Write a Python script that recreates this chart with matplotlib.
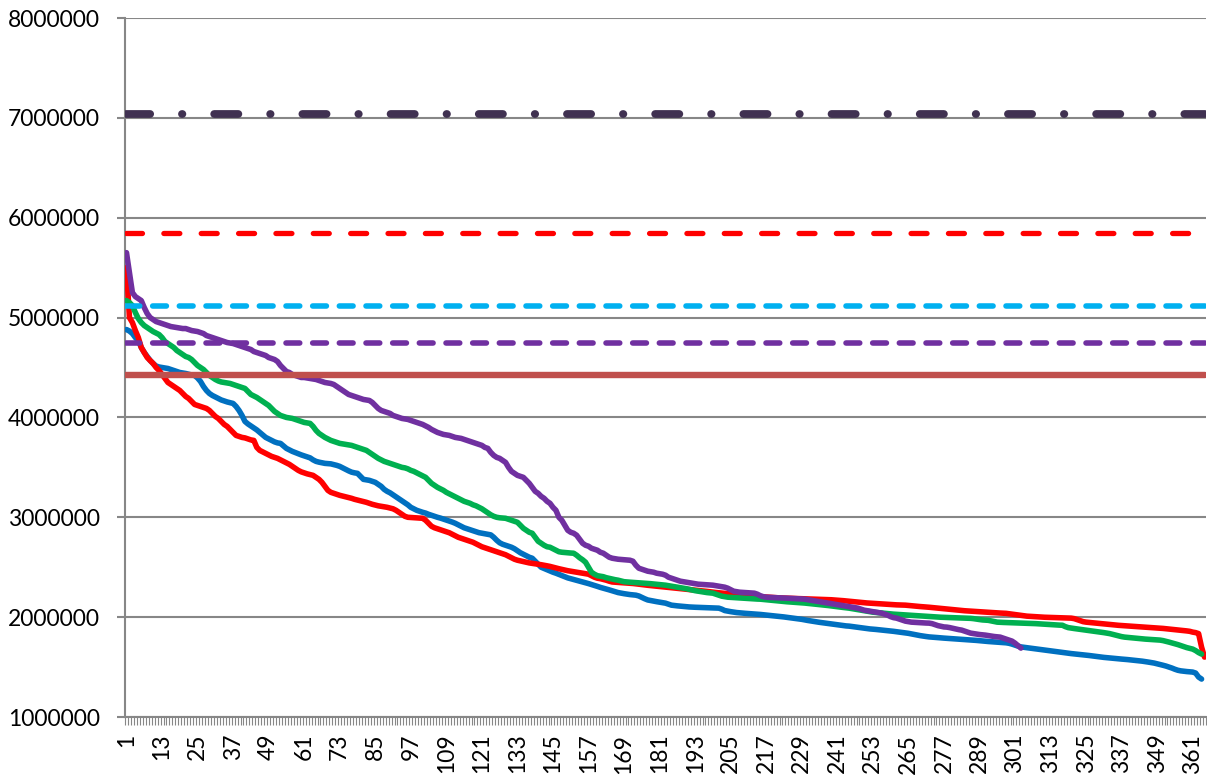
import numpy as np
import matplotlib
matplotlib.use("Agg")
import matplotlib.pyplot as plt
from matplotlib.ticker import FixedLocator, FuncFormatter

# sorted daily values (thousands)
blue = [
    4880, 4865, 4840, 4800, 4770, 4700, 4650, 4610, 4570, 4540,
    4515, 4505, 4500, 4495, 4490, 4480, 4470, 4460, 4450, 4445,
    4440, 4432, 4425, 4420, 4395, 4360, 4310, 4270, 4240, 4220,
    4205, 4190, 4175, 4165, 4155, 4148, 4140, 4110, 4070, 4020,
    3960, 3935, 3915, 3895, 3875, 3850, 3825, 3800, 3785, 3770,
    3755, 3745, 3740, 3715, 3690, 3675, 3660, 3648, 3636, 3625,
    3615, 3605, 3595, 3575, 3560, 3552, 3546, 3540, 3538, 3535,
    3528, 3520, 3510, 3495, 3480, 3465, 3452, 3445, 3440, 3410,
    3380, 3375, 3370, 3360, 3350, 3330, 3310, 3280, 3260, 3245,
    3225, 3205, 3185, 3165, 3145, 3125, 3100, 3085, 3070, 3060,
    3050, 3042, 3030, 3020, 3010, 3000, 2992, 2982, 2972, 2962,
    2952, 2940, 2925, 2910, 2895, 2885, 2875, 2865, 2855, 2846,
    2840, 2835, 2830, 2824, 2800, 2770, 2745, 2730, 2720, 2710,
    2700, 2685, 2665, 2645, 2630, 2615, 2600, 2590, 2560, 2530,
    2500, 2488, 2475, 2462, 2450, 2440, 2428, 2417, 2405, 2393,
    2385, 2377, 2369, 2361, 2353, 2344, 2336, 2327, 2318, 2308,
    2298, 2290, 2282, 2273, 2264, 2255, 2246, 2240, 2235, 2230,
    2226, 2223, 2220, 2212, 2198, 2184, 2172, 2166, 2160, 2155,
    2150, 2145, 2140, 2130, 2120, 2116, 2113, 2110, 2107, 2104,
    2102, 2100, 2099, 2098, 2097, 2096, 2095, 2094, 2093, 2092,
    2090, 2080, 2066, 2060, 2055, 2050, 2046, 2043, 2040, 2038,
    2036, 2034, 2032, 2030, 2027, 2024, 2021, 2018, 2015, 2012,
    2010, 2006, 2002, 1998, 1994, 1990, 1986, 1983, 1978, 1972,
    1967, 1962, 1957, 1952, 1948, 1944, 1940, 1936, 1932, 1927,
    1923, 1919, 1915, 1912, 1910, 1906, 1902, 1898, 1894, 1890,
    1886, 1882, 1880, 1877, 1874, 1871, 1868, 1865, 1862, 1858,
    1854, 1850, 1846, 1842, 1838, 1832, 1826, 1820, 1815, 1810,
    1806, 1802, 1800, 1797, 1795, 1792, 1790, 1788, 1785, 1783,
    1781, 1779, 1777, 1775, 1773, 1771, 1769, 1767, 1764, 1761,
    1758, 1756, 1754, 1752, 1750, 1748, 1746, 1743, 1738, 1730,
    1720, 1710, 1702, 1698, 1694, 1690, 1686, 1682, 1678, 1674,
    1670, 1666, 1662, 1658, 1654, 1650, 1646, 1642, 1638, 1635,
    1632, 1629, 1626, 1623, 1620, 1616, 1612, 1608, 1604, 1600,
    1597, 1594, 1591, 1588, 1585, 1582, 1580, 1578, 1575, 1572,
    1569, 1566, 1563, 1559, 1555, 1550, 1545, 1540, 1533, 1525,
    1518, 1510, 1500, 1490, 1478, 1468, 1462, 1458, 1455, 1452,
    1450, 1440, 1400, 1380,
]

red = [
    5500, 5000, 4950, 4870, 4800, 4700, 4650, 4600, 4570, 4540,
    4500, 4470, 4430, 4390, 4350, 4330, 4310, 4290, 4270, 4240,
    4210, 4190, 4160, 4130, 4120, 4110, 4100, 4090, 4070, 4040,
    4010, 3990, 3960, 3930, 3910, 3880, 3850, 3820, 3810, 3800,
    3795, 3785, 3775, 3770, 3700, 3670, 3655, 3640, 3625, 3610,
    3600, 3590, 3575, 3560, 3545, 3530, 3510, 3490, 3470, 3455,
    3445, 3435, 3428, 3420, 3400, 3380, 3350, 3310, 3270, 3250,
    3240, 3230, 3220, 3212, 3205, 3198, 3190, 3180, 3172, 3165,
    3158, 3150, 3140, 3130, 3122, 3115, 3110, 3105, 3100, 3092,
    3085, 3070, 3050, 3030, 3010, 3000, 2998, 2996, 2994, 2992,
    2990, 2970, 2940, 2910, 2895, 2885, 2875, 2865, 2855, 2845,
    2830, 2815, 2800, 2790, 2780, 2770, 2760, 2750, 2735, 2720,
    2705, 2695, 2685, 2675, 2665, 2655, 2645, 2635, 2625, 2610,
    2595, 2580, 2570, 2563, 2556, 2550, 2543, 2538, 2534, 2530,
    2525, 2520, 2514, 2508, 2500, 2492, 2485, 2478, 2470, 2465,
    2460, 2455, 2450, 2445, 2440, 2435, 2430, 2415, 2400, 2390,
    2385, 2378, 2370, 2360, 2352, 2350, 2348, 2346, 2344, 2342,
    2340, 2337, 2334, 2330, 2326, 2322, 2319, 2316, 2313, 2310,
    2307, 2304, 2301, 2298, 2295, 2292, 2289, 2286, 2283, 2280,
    2277, 2274, 2271, 2268, 2265, 2262, 2258, 2254, 2250, 2247,
    2244, 2241, 2238, 2235, 2232, 2229, 2226, 2223, 2220, 2217,
    2214, 2211, 2209, 2207, 2205, 2203, 2201, 2199, 2197, 2195,
    2193, 2192, 2191, 2190, 2189, 2188, 2187, 2186, 2185, 2184,
    2183, 2182, 2181, 2180, 2179, 2178, 2177, 2176, 2174, 2172,
    2170, 2168, 2165, 2162, 2159, 2156, 2153, 2150, 2147, 2144,
    2142, 2140, 2138, 2136, 2134, 2132, 2130, 2128, 2126, 2124,
    2123, 2122, 2121, 2120, 2117, 2114, 2111, 2108, 2106, 2104,
    2102, 2099, 2096, 2093, 2090, 2087, 2084, 2081, 2078, 2075,
    2072, 2069, 2066, 2064, 2062, 2060, 2058, 2056, 2054, 2052,
    2050, 2048, 2046, 2044, 2042, 2041, 2040, 2038, 2034, 2030,
    2026, 2022, 2018, 2014, 2010, 2008, 2006, 2004, 2002, 2000,
    1999, 1998, 1997, 1996, 1995, 1994, 1993, 1992, 1991, 1990,
    1985, 1975, 1965, 1955, 1950, 1947, 1944, 1941, 1938, 1935,
    1932, 1929, 1926, 1923, 1920, 1918, 1916, 1914, 1912, 1910,
    1908, 1906, 1904, 1902, 1900, 1898, 1896, 1894, 1892, 1890,
    1887, 1884, 1881, 1878, 1875, 1872, 1869, 1866, 1862, 1858,
    1850, 1845, 1835, 1700, 1600,
]

green = [
    5170, 5150, 5120, 5050, 4990, 4950, 4920, 4900, 4880, 4860,
    4845, 4830, 4800, 4760, 4740, 4720, 4700, 4670, 4650, 4630,
    4610, 4600, 4580, 4550, 4520, 4500, 4480, 4450, 4420, 4400,
    4380, 4365, 4355, 4350, 4345, 4340, 4330, 4320, 4310, 4300,
    4290, 4260, 4230, 4215, 4200, 4180, 4160, 4140, 4120, 4090,
    4060, 4040, 4020, 4010, 4000, 3995, 3990, 3980, 3970, 3960,
    3950, 3945, 3940, 3910, 3870, 3840, 3820, 3800, 3785, 3770,
    3760, 3750, 3740, 3735, 3730, 3725, 3720, 3710, 3700, 3690,
    3680, 3670, 3650, 3630, 3610, 3590, 3575, 3560, 3550, 3540,
    3530, 3520, 3510, 3500, 3495, 3485, 3470, 3460, 3445, 3430,
    3415, 3400, 3370, 3340, 3320, 3300, 3285, 3270, 3250, 3235,
    3220, 3205, 3190, 3175, 3160, 3150, 3140, 3125, 3115, 3100,
    3085, 3065, 3045, 3025, 3010, 3000, 2995, 2992, 2990, 2980,
    2970, 2960, 2950, 2920, 2890, 2870, 2850, 2840, 2800, 2760,
    2740, 2720, 2705, 2700, 2685, 2670, 2655, 2650, 2647, 2645,
    2642, 2640, 2620, 2595, 2575, 2550, 2500, 2450, 2430, 2415,
    2410, 2405, 2395, 2388, 2380, 2375, 2370, 2362, 2355, 2352,
    2350, 2348, 2346, 2344, 2342, 2340, 2338, 2335, 2332, 2330,
    2327, 2324, 2320, 2315, 2310, 2305, 2300, 2295, 2290, 2285,
    2278, 2270, 2265, 2260, 2255, 2250, 2246, 2243, 2240, 2230,
    2220, 2210, 2205, 2200, 2198, 2196, 2194, 2192, 2190, 2188,
    2186, 2184, 2182, 2181, 2180, 2177, 2174, 2170, 2167, 2164,
    2161, 2158, 2156, 2154, 2152, 2150, 2148, 2146, 2144, 2141,
    2138, 2135, 2132, 2129, 2126, 2123, 2120, 2116, 2112, 2108,
    2104, 2100, 2097, 2094, 2090, 2085, 2080, 2075, 2070, 2065,
    2060, 2055, 2050, 2047, 2044, 2041, 2038, 2035, 2032, 2030,
    2028, 2026, 2024, 2022, 2020, 2018, 2016, 2014, 2012, 2010,
    2008, 2006, 2004, 2002, 2000, 1999, 1998, 1997, 1996, 1995,
    1994, 1993, 1992, 1991, 1990, 1988, 1985, 1980, 1976, 1972,
    1970, 1968, 1962, 1955, 1950, 1948, 1947, 1946, 1945, 1944,
    1943, 1942, 1941, 1940, 1940, 1939, 1937, 1935, 1933, 1931,
    1929, 1927, 1925, 1923, 1921, 1920, 1919, 1905, 1895, 1890,
    1886, 1882, 1878, 1874, 1870, 1866, 1862, 1858, 1854, 1850,
    1845, 1840, 1835, 1828, 1820, 1812, 1805, 1800, 1797, 1794,
    1791, 1788, 1785, 1782, 1780, 1778, 1776, 1774, 1772, 1770,
    1765, 1758, 1750, 1742, 1735, 1725, 1715, 1705, 1695, 1688,
    1680, 1665, 1645, 1630,
]

purple = [
    5650, 5450, 5250, 5210, 5190, 5170, 5100, 5040, 5000, 4980,
    4960, 4950, 4940, 4930, 4920, 4910, 4905, 4900, 4895, 4890,
    4890, 4880, 4870, 4865, 4860, 4850, 4840, 4820, 4810, 4800,
    4790, 4780, 4770, 4760, 4750, 4745, 4740, 4730, 4720, 4710,
    4700, 4690, 4680, 4660, 4650, 4640, 4630, 4620, 4600, 4590,
    4580, 4560, 4520, 4490, 4460, 4450, 4430, 4420, 4410, 4400,
    4400, 4395, 4390, 4385, 4380, 4370, 4360, 4350, 4345, 4340,
    4330, 4310, 4290, 4270, 4250, 4230, 4220, 4210, 4200, 4190,
    4180, 4175, 4170, 4150, 4120, 4090, 4070, 4060, 4050, 4040,
    4020, 4010, 4000, 3990, 3985, 3980, 3970, 3960, 3950, 3940,
    3930, 3915, 3900, 3880, 3865, 3850, 3840, 3830, 3825, 3820,
    3810, 3800, 3795, 3790, 3780, 3770, 3760, 3750, 3740, 3730,
    3720, 3700, 3690, 3650, 3620, 3600, 3590, 3570, 3550, 3500,
    3460, 3440, 3420, 3410, 3400, 3370, 3340, 3300, 3260, 3240,
    3210, 3190, 3160, 3140, 3100, 3070, 3000, 2970, 2920, 2870,
    2850, 2840, 2820, 2780, 2740, 2720, 2710, 2690, 2680, 2670,
    2650, 2640, 2620, 2600, 2590, 2585, 2580, 2578, 2575, 2572,
    2570, 2560, 2520, 2490, 2480, 2470, 2460, 2455, 2450, 2440,
    2435, 2430, 2420, 2400, 2390, 2380, 2370, 2360, 2355, 2350,
    2345, 2340, 2335, 2330, 2328, 2326, 2324, 2322, 2320, 2315,
    2310, 2305, 2300, 2290, 2275, 2260, 2255, 2250, 2248, 2246,
    2244, 2242, 2240, 2230, 2215, 2205, 2200, 2198, 2196, 2195,
    2194, 2193, 2192, 2190, 2188, 2186, 2185, 2184, 2182, 2180,
    2175, 2170, 2165, 2160, 2155, 2150, 2145, 2140, 2135, 2130,
    2125, 2120, 2115, 2110, 2105, 2100, 2095, 2090, 2080, 2070,
    2065, 2060, 2055, 2050, 2045, 2040, 2030, 2020, 2005, 1995,
    1990, 1980, 1970, 1960, 1955, 1950, 1948, 1946, 1944, 1942,
    1941, 1940, 1935, 1925, 1915, 1908, 1902, 1900, 1895, 1888,
    1880, 1875, 1870, 1860, 1850, 1840, 1835, 1830, 1826, 1823,
    1820, 1815, 1810, 1806, 1803, 1800, 1790, 1780, 1770, 1760,
    1740, 1715, 1690,
]

# flat reference levels (thousands)
level_dashdot = 7040
level_red = 5850
level_cyan = 5115
level_purple = 4750
level_brown = 4420

n_days = 365
days = np.arange(1, n_days + 1)
x_labels = days[::12]
y_ticks = [1000000, 2000000, 3000000, 4000000, 5000000, 6000000, 7000000, 8000000]

plt.rcParams['font.family'] = ['Lato', 'DejaVu Sans']
plt.rcParams['lines.scale_dashes'] = False

fig = plt.figure(figsize=(12.07, 7.77), dpi=100)
ax = fig.add_axes([125 / 1207, 60 / 777, 1081 / 1207, 699 / 777])

grey = '#878787'

# duration curves
for vals, col in [(blue, '#0070C0'), (red, '#FF0000'), (green, '#00B050'), (purple, '#7030A0')]:
    x = days[:len(vals)]
    ax.plot(x, np.array(vals) * 1000, color=col, lw=4.0,
            solid_capstyle='round', solid_joinstyle='round', zorder=3)

# reference levels
ends = days[[0, -1]]
ax.plot(ends, [level_dashdot * 1000] * 2, color='#403151', lw=5.6,
        dashes=(17.4, 22.9, 0.3, 22.9), dash_capstyle='round', zorder=4)
ax.plot(ends, [level_red * 1000] * 2, color='#FF0000', lw=3.8,
        dashes=(11.5, 15.4), dash_capstyle='round', zorder=4)
ax.plot(ends, [level_cyan * 1000] * 2, color='#00B0F0', lw=4.0,
        dashes=(9.9, 9.3), dash_capstyle='round', zorder=4)
ax.plot(ends, [level_purple * 1000] * 2, color='#7030A0', lw=4.0,
        dashes=(9.9, 9.3), dash_capstyle='round', zorder=4)
ax.plot(ends, [level_brown * 1000] * 2, color='#C0504D', lw=4.6,
        solid_capstyle='round', zorder=4)

ax.set_xlim(0.5, n_days + 0.5)
ax.set_ylim(1000000, 8000000)

ax.set_yticks(y_ticks)
ax.yaxis.set_major_formatter(FuncFormatter(lambda v, p: f"{int(v)}"))
ax.yaxis.grid(True, color=grey, lw=1.5)
ax.set_axisbelow(True)
ax.tick_params(axis='y', direction='out', length=6, width=1.5, color=grey,
               pad=12, labelsize=16.5)

ax.xaxis.set_major_locator(FixedLocator(x_labels))
ax.set_xticklabels([str(d) for d in x_labels], rotation=90)
ax.xaxis.set_minor_locator(FixedLocator(np.arange(0.5, n_days + 1, 1)))
ax.tick_params(axis='x', which='major', length=0, pad=12, labelsize=16.5)
ax.tick_params(axis='x', which='minor', direction='out', length=6, width=0.8, color=grey)

for side in ['top', 'right']:
    ax.spines[side].set_visible(False)
for side in ['left', 'bottom']:
    ax.spines[side].set_color(grey)
    ax.spines[side].set_linewidth(1.5)

fig.savefig('out.png', dpi=100)
